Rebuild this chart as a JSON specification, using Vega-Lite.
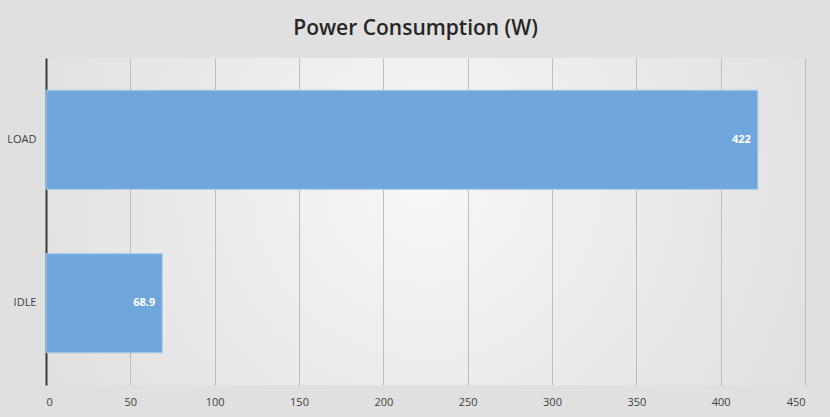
{
  "$schema": "https://vega.github.io/schema/vega-lite/v6.json",
  "width": 759,
  "height": 327,
  "autosize": {"type": "none"},
  "padding": {"left": 46, "top": 58, "right": 25, "bottom": 32},
  "background": "#e0e0e0",
  "title": {
    "text": "Power Consumption (W)",
    "font": "Open Sans",
    "fontSize": 21,
    "fontWeight": 600,
    "color": "#262626",
    "anchor": "middle",
    "dx": -10,
    "offset": 19
  },
  "data": {
    "values": [
      {"state": "LOAD", "watts": 422},
      {"state": "IDLE", "watts": 68.9}
    ]
  },
  "encoding": {
    "y": {
      "field": "state",
      "type": "nominal",
      "sort": ["LOAD", "IDLE"],
      "title": null,
      "scale": {"paddingInner": 0.394, "paddingOuter": 0.197},
      "axis": {
        "ticks": false,
        "domain": true,
        "domainColor": "#3a3a3a",
        "domainWidth": 2,
        "labelPadding": 10,
        "labelFont": "Open Sans",
        "labelFontSize": 11,
        "labelColor": "#404040",
        "grid": false
      }
    },
    "x": {
      "field": "watts",
      "type": "quantitative",
      "title": null,
      "scale": {"domain": [0, 450], "nice": false},
      "axis": {
        "values": [0, 50, 100, 150, 200, 250, 300, 350, 400, 450],
        "domain": false,
        "ticks": false,
        "grid": true,
        "gridColor": "#bdbdbd",
        "gridWidth": 1,
        "labelPadding": 11,
        "labelFont": "Open Sans",
        "labelFontSize": 11,
        "labelColor": "#404040"
      }
    }
  },
  "layer": [
    {
      "mark": {"type": "bar", "fill": "#6fa7dc", "stroke": "#a6c9ea", "strokeWidth": 1}
    },
    {
      "mark": {
        "type": "text",
        "align": "right",
        "baseline": "middle",
        "dx": -7,
        "font": "Open Sans",
        "fontSize": 11,
        "fontWeight": "bold",
        "color": "#ffffff"
      },
      "encoding": {"text": {"field": "watts", "type": "quantitative"}}
    }
  ],
  "config": {
    "view": {
      "stroke": null,
      "fill": {
        "gradient": "radial",
        "x1": 0.5, "y1": 0.45, "r1": 0,
        "x2": 0.5, "y2": 0.45, "r2": 0.75,
        "stops": [
          {"offset": 0, "color": "#f7f7f7"},
          {"offset": 1, "color": "#d8d8d8"}
        ]
      }
    }
  }
}
